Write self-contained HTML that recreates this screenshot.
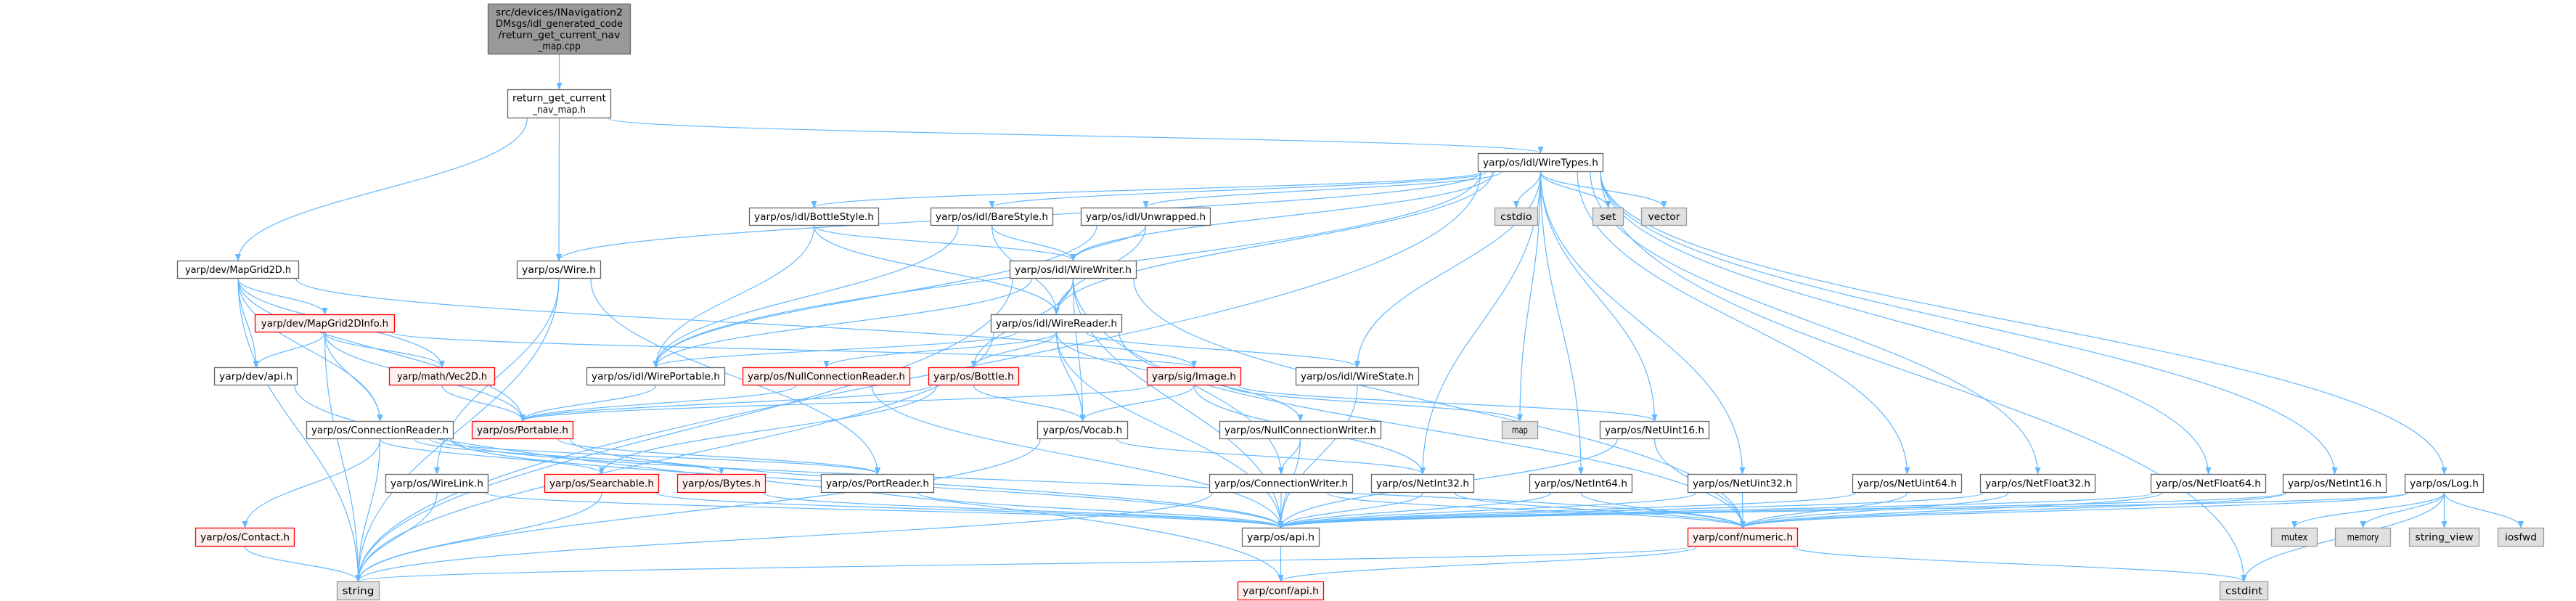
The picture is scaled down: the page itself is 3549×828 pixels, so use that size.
<!DOCTYPE html>
<html><head><meta charset="utf-8"><style>
html,body{margin:0;padding:0;background:#fff;}
svg{display:block;}
text{font-family:"DejaVu Sans","Liberation Sans",sans-serif;font-size:13px;fill:#000;}
</style></head><body>
<svg id="g" xmlns="http://www.w3.org/2000/svg" width="3549" height="828" viewBox="0 0 3549 828">
<defs><marker id="a" markerWidth="10" markerHeight="8" refX="9" refY="4" orient="auto" markerUnits="userSpaceOnUse"><path d="M0,0 L10,4 L0,8 z" fill="#63b8ff"/></marker></defs>
<g id="E"></g><g id="N"></g>
</svg>
<script>
var N={
root:[672,869,5,75,'d',["src/devices/INavigation2","DMsgs/idl_generated_code","/return_get_current_nav","_map.cpp"]],
ret:[699,842,123,163,'w',["return_get_current","_nav_map.h"]],
wt:[2036,2209,211,237,'w',"yarp/os/idl/WireTypes.h"],
mg:[244,412,359,384,'w',"yarp/dev/MapGrid2D.h"],
wire:[712,828,359,384,'w',"yarp/os/Wire.h"],
bs:[1032,1211,286,311,'w',"yarp/os/idl/BottleStyle.h"],
bare:[1282,1451,286,311,'w',"yarp/os/idl/BareStyle.h"],
unw:[1489,1668,286,311,'w',"yarp/os/idl/Unwrapped.h"],
cstdio:[2059,2119,286,311,'g',"cstdio"],
set:[2194,2237,286,311,'g',"set"],
vector:[2261,2324,286,311,'g',"vector"],
ww:[1391,1566,359,384,'w',"yarp/os/idl/WireWriter.h"],
wr:[1365,1546,433,458,'w',"yarp/os/idl/WireReader.h"],
mgi:[351,544,433,458,'r',"yarp/dev/MapGrid2DInfo.h"],
devapi:[295,410,506,531,'w',"yarp/dev/api.h"],
vec2d:[536,682,506,531,'r',"yarp/math/Vec2D.h"],
wp:[808,999,506,531,'w',"yarp/os/idl/WirePortable.h"],
ncr:[1023,1254,506,531,'r',"yarp/os/NullConnectionReader.h"],
bottle:[1279,1404,506,531,'r',"yarp/os/Bottle.h"],
image:[1580,1710,506,531,'r',"yarp/sig/Image.h"],
wstate:[1785,1955,506,531,'w',"yarp/os/idl/WireState.h"],
cr:[422,625,580,605,'w',"yarp/os/ConnectionReader.h"],
portable:[650,790,580,605,'r',"yarp/os/Portable.h"],
vocab:[1429,1554,580,605,'w',"yarp/os/Vocab.h"],
ncw:[1680,1903,580,605,'w',"yarp/os/NullConnectionWriter.h"],
map:[2069,2119,580,605,'g',"map"],
nu16:[2204,2355,580,605,'w',"yarp/os/NetUint16.h"],
wlink:[531,673,653,679,'w',"yarp/os/WireLink.h"],
search:[750,908,653,679,'r',"yarp/os/Searchable.h"],
bytes:[933,1055,653,679,'r',"yarp/os/Bytes.h"],
pr:[1131,1287,653,679,'w',"yarp/os/PortReader.h"],
cw:[1666,1864,653,679,'w',"yarp/os/ConnectionWriter.h"],
ni32:[1889,2031,653,679,'w',"yarp/os/NetInt32.h"],
ni64:[2107,2249,653,679,'w',"yarp/os/NetInt64.h"],
nu32:[2325,2476,653,679,'w',"yarp/os/NetUint32.h"],
nu64:[2552,2703,653,679,'w',"yarp/os/NetUint64.h"],
nf32:[2728,2887,653,679,'w',"yarp/os/NetFloat32.h"],
nf64:[2963,3122,653,679,'w',"yarp/os/NetFloat64.h"],
ni16:[3145,3288,653,679,'w',"yarp/os/NetInt16.h"],
log:[3313,3422,653,679,'w',"yarp/os/Log.h"],
contact:[269,406,727,753,'r',"yarp/os/Contact.h"],
osapi:[1711,1818,727,753,'w',"yarp/os/api.h"],
numeric:[2325,2477,727,753,'r',"yarp/conf/numeric.h"],
mutex:[3129,3193,727,753,'g',"mutex"],
memory:[3217,3294,727,753,'g',"memory"],
sv:[3319,3416,727,753,'g',"string_view"],
iosfwd:[3441,3505,727,753,'g',"iosfwd"],
string:[464,523,801,827,'g',"string"],
confapi:[1705,1824,801,827,'r',"yarp/conf/api.h"],
cstdint:[3058,3125,801,827,'g',"cstdint"]
};
var E="root>ret ret>wt ret>mg ret>wire "+
"wt>string wt>cstdint wt>bs wt>bare wt>unw wt>cstdio wt>set wt>vector wt>ww wt>wr wt>wp wt>wstate wt>map wt>nu16 wt>ni32 wt>ni64 wt>nu32 wt>nu64 wt>nf32 wt>nf64 wt>ni16 wt>log wt>wire "+
"mg>string mg>mgi mg>devapi mg>vec2d mg>portable mg>cr mg>image "+
"wire>wlink wire>pr wire>string "+
"bs>wp bs>wr bs>ww bare>wp bare>ww bare>wr unw>wp unw>ww unw>wr "+
"ww>wr ww>wp ww>string ww>vocab ww>osapi ww>cw ww>numeric ww>bottle "+
"wr>wp wr>ncr wr>bottle wr>vocab wr>string wr>wstate wr>ncw wr>osapi wr>numeric "+
"mgi>devapi mgi>vec2d mgi>portable mgi>cr mgi>string mgi>image devapi>confapi vec2d>portable wp>portable "+
"ncr>portable ncr>osapi bottle>portable bottle>search bottle>vocab "+
"image>portable image>vocab image>map image>ni32 image>nu16 "+
"cr>contact cr>string cr>search cr>bytes cr>pr cr>numeric cr>osapi portable>pr portable>osapi "+
"vocab>ni32 vocab>string ncw>cw ncw>osapi nu16>osapi nu16>numeric wlink>string wlink>osapi "+
"search>string search>osapi bytes>osapi pr>osapi cw>osapi cw>string cw>numeric "+
"ni32>osapi ni32>numeric ni64>osapi ni64>numeric nu32>osapi nu32>numeric nu64>osapi nu64>numeric "+
"nf32>osapi nf32>numeric nf64>osapi nf64>numeric ni16>osapi ni16>numeric log>osapi log>numeric "+
"log>cstdint log>mutex log>memory log>sv log>iosfwd contact>string osapi>confapi numeric>string numeric>confapi numeric>cstdint wstate>osapi";
var ns="http://www.w3.org/2000/svg";
var eg=document.getElementById('E'),ng=document.getElementById('N');
function el(t,a,p){var e=document.createElementNS(ns,t);for(var k in a)e.setAttribute(k,a[k]);p.appendChild(e);return e;}
E.split(' ').forEach(function(s){
 var p=s.split('>'),a=N[p[0]],b=N[p[1]];if(!a||!b)return;
 var sx=(a[0]+a[1])/2,sy=a[3],tx=(b[0]+b[1])/2,ty=b[2];
 var dx=tx-sx;
 if(Math.abs(dx)>400){sx+=Math.max(-(a[1]-a[0])/2+4,Math.min((a[1]-a[0])/2-4,dx/10));}
 var dy=ty-sy;
 var d="M"+sx+","+sy+" C"+sx+","+(sy+dy*0.45)+" "+tx+","+(ty-dy*0.45)+" "+tx+","+ty;
 el('path',{d:d,fill:'none',stroke:'#63b8ff','stroke-width':1.2,'marker-end':'url(#a)'},eg);
});
for(var k in N){var n=N[k],x=n[0],w=n[1]-n[0],y=n[2],h=n[3]-n[2];
 var f='#fff',st='#666';
 if(n[4]=='d'){f='#999';st='#666';} if(n[4]=='r'){f='#fff0f0';st='#ff0000';} if(n[4]=='g'){f='#e0e0e0';st='#999';}
 el('rect',{x:x+0.5,y:y+0.5,width:w-1,height:h-1,fill:f,stroke:st,'stroke-width':1.3},ng);
 var lines=typeof n[5]=='string'?[n[5]]:n[5];
 var lh=lines.length>1?(h-8)/lines.length:0;
 lines.forEach(function(L,i){
  var ty=lines.length>1?y+4+lh*(i+0.5)+4.5:y+h/2+4.5;
  var tw=Math.min(w-14,L.length*7.3);
  var t=el('text',{x:x+w/2,y:ty,'text-anchor':'middle',textLength:tw,lengthAdjust:'spacingAndGlyphs'},ng);
  t.textContent=L;
 });
}
</script>
</body></html>
